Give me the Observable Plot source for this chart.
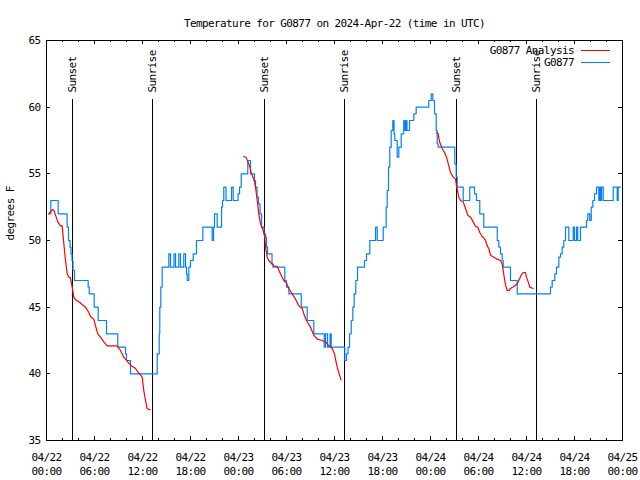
<!DOCTYPE html>
<html><head><meta charset="utf-8">
<script src="https://cdn.jsdelivr.net/npm/d3@7"></script>
<script src="https://cdn.jsdelivr.net/npm/@observablehq/plot@0.6"></script>
<style>
body{margin:0;background:#fff;}
</style>
</head><body><div id="chart"></div>
<script>
const titleText = "Temperature for G0877 on 2024-Apr-22 (time in UTC)";
const yLabel = "degrees F";
const seriesNames = ["G0877 Analysis", "G0877"];
const seriesColors = ["#ff0000", "#0080ff"];
const startUTC = Date.UTC(2024, 3, 22, 0, 0);
const spanHours = 72;
const majorTickHours = [0, 6, 12, 18, 24, 30, 36, 42, 48, 54, 60, 66, 72];
const minorTickHours = [2, 4, 8, 10, 14, 16, 20, 22, 26, 28, 32, 34, 38, 40, 44, 46, 50, 52, 56, 58, 62, 64, 68, 70];
const yTicks = [35, 40, 45, 50, 55, 60, 65];
const sunHours = [3.28, 13.29, 27.26, 37.26, 51.25, 61.23];
const sunLabels = ["Sunset", "Sunrise", "Sunset", "Sunrise", "Sunset", "Sunrise"];

// Observations (G0877): hours since 04/22 00:00 UTC, value held until next point
const obsHours = [0.29,0.54,1.46,2.58,2.75,2.94,3.06,3.19,3.31,3.5,5.21,5.34,5.96,6.46,7.5,8.91,9.88,10.0,10.5,13.84,14.09,14.16,14.29,14.46,15.29,15.5,15.94,16.13,16.54,16.75,17.16,17.38,17.5,17.59,17.79,18.0,18.34,18.75,19.54,20.71,20.88,21.0,21.34,21.88,22.0,22.16,22.44,23.13,23.34,23.94,24.13,24.34,25.16,25.5,26.0,26.13,26.31,26.5,26.69,26.88,27.19,27.38,27.5,27.63,28.19,28.31,29.79,30.0,30.29,31.84,32.59,33.41,34.72,34.88,35.13,35.44,35.59,37.29,37.5,37.69,37.88,38.09,38.29,38.46,38.66,38.88,39.75,40.0,40.41,41.13,41.34,42.09,42.46,42.59,42.75,42.91,43.09,43.29,43.44,43.54,43.84,44.04,44.34,44.66,44.81,44.94,45.06,45.38,45.91,46.21,47.79,48.09,48.29,48.5,48.71,48.84,48.96,51.04,51.21,51.34,52.09,52.91,53.5,53.75,54.16,54.66,56.34,56.54,56.75,56.96,57.09,58.0,58.84,63.0,63.21,63.54,63.75,64.04,64.25,64.46,64.66,64.88,65.29,65.84,66.0,66.25,66.41,66.75,67.5,67.66,67.91,68.09,68.29,68.5,68.75,69.04,69.16,69.29,69.38,69.59,70.84,71.34,71.46,71.75];
const obsTemps = [52,53,52,51,50,49.5,49,48.5,47.75,47,46.5,46,45,44,43,42,41.5,41,40,41.5,43,45,46.5,48,49,48,49,48,49,48,49,48,47.5,47,48,48.5,49,50,51,50,51,52,51,52.5,53,54,53,54,53,53.5,54,55,56,55,54.5,54,53.25,52.75,52,51,50.5,50.25,49.5,49,48.25,48,47,46.5,46,45,44,43,42,43,42,43,42,41,41.5,42,43,44,45,46,47,48,48.5,49,50,51,50,51,52.5,53.75,55.5,57,58.25,59,58,57.5,56.25,57,58,59,58.25,59,58.25,59,59.5,60,60.5,61,60.5,59.5,58.25,57.25,57,55.75,54.75,54,53,54,53.5,53,52,51,50,49.5,49,48.5,48,47,46,46.5,47,47.5,48,48.75,49,49.5,50,51,50,51,50,51,50,51,51.5,52,51.5,52.5,53,53.5,54,53,54,53,54,53,54,53,54,54];

// Analysis (G0877 Analysis): null marks a gap between runs
const anaHours = [0.29,0.71,0.91,1.13,1.41,1.75,1.96,2.09,2.25,2.38,2.59,2.79,3.0,3.21,3.41,3.63,4.04,4.46,4.88,5.29,5.5,5.91,6.13,6.41,6.75,7.16,7.59,8.84,9.25,9.66,10.16,10.59,11.13,11.54,11.96,12.16,12.38,12.56,12.94,
  13.0,
  24.66,25.0,25.16,25.38,25.63,25.91,26.13,26.34,26.54,26.75,27.09,27.29,27.38,27.59,27.79,28.41,28.84,29.25,29.66,30.0,30.29,30.71,31.13,31.54,31.96,32.16,32.5,33.0,33.41,33.84,34.46,34.88,35.29,35.71,36.0,36.16,36.34,36.46,36.63,36.81,
  37.0,
  48.75,48.96,49.13,49.46,49.75,50.0,50.29,50.5,50.84,51.13,51.25,51.54,51.75,52.09,52.38,52.66,53.0,53.34,53.63,53.91,54.16,54.46,54.66,54.88,55.09,55.29,55.5,55.91,56.34,56.75,56.96,57.09,57.25,57.41,57.59,57.79,58.0,58.41,58.84,59.04,59.34,59.59,59.88,60.0,60.21,60.41,60.84];
const anaTemps = [52,52.3,52.3,51.9,51.4,51.1,51.1,50.25,49.25,48.5,47.5,47.25,47.2,46.5,45.75,45.55,45.4,45.2,45,44.6,44.3,44.1,43.6,43,42.75,42.4,42.1,42.1,41.75,41.25,40.9,40.6,40.4,40.05,39.75,38.75,38,37.4,37.3,
  null,
  56.3,56.2,55.9,55.6,55,54.6,54,53,52,51.25,50.75,50.25,49.5,48.75,48.5,48.1,48.05,47.5,47,46.8,46.4,46,45.6,45.1,44.9,44.5,44,43.5,42.9,42.6,42.5,42.4,42.1,41.9,41.5,41,40.5,40.25,39.9,39.55,
  null,
  58.1,58,57.4,56.9,56.6,56.25,55.6,55.1,54.75,54.6,54.1,53.25,53,52.9,52.4,51.9,51.75,51.4,51.05,51,50.6,50.3,50.2,50,49.6,49.4,48.9,48.75,48.6,48.5,48.25,47.75,47.1,46.6,46.25,46.25,46.4,46.55,46.75,47,47.4,47.6,47.6,47.25,46.9,46.5,46.4];

const t = h => new Date(startUTC + h * 3600000);
const fmt = d3.utcFormat("%m/%d\n%H:%M");
const pxY = 30 / 400;   // data units per pixel (y)
const pxX = 72 / 576;   // hours per pixel (x)
const crisp = {shapeRendering: "crispEdges"};

const chart = Plot.plot({
  width: 640, height: 480,
  marginLeft: 46, marginRight: 18, marginTop: 40, marginBottom: 40,
  style: {fontFamily: "'DejaVu Sans Mono', monospace", fontSize: "11px", letterSpacing: "-0.6px", background: "white", color: "black"},
  x: {type: "utc", domain: [t(0), t(spanHours)], axis: null},
  y: {domain: [35, 65], axis: null},
  marks: [
    // ticks (inward, mirrored)
    Plot.ruleX(majorTickHours, {x: t, y1: 35, y2: 35 + 4 * pxY, stroke: "black", ...crisp}),
    Plot.ruleX(majorTickHours, {x: t, y1: 65, y2: 65 - 4 * pxY, stroke: "black", ...crisp}),
    Plot.ruleX(minorTickHours, {x: t, y1: 35, y2: 35 + 2 * pxY, stroke: "black", ...crisp}),
    Plot.ruleX(minorTickHours, {x: t, y1: 65, y2: 65 - 2 * pxY, stroke: "black", ...crisp}),
    Plot.ruleY(yTicks, {y: d => d, x1: t(0), x2: t(4 * pxX), stroke: "black", ...crisp}),
    Plot.ruleY(yTicks, {y: d => d, x1: t(spanHours), x2: t(spanHours - 4 * pxX), stroke: "black", ...crisp}),
    // tick labels
    Plot.text(majorTickHours, {x: t, y: 35, text: h => fmt(t(h)), lineAnchor: "top", dy: 10, lineHeight: 1.3, fill: "black"}),
    Plot.text(yTicks, {y: d => d, frameAnchor: "left", textAnchor: "end", dx: -6, text: d => String(d), fill: "black"}),
    // sunrise / sunset
    Plot.ruleX(sunHours, {x: t, y1: 35, y2: 60.6, stroke: "black", ...crisp}),
    Plot.text(sunHours, {x: t, y: 61.1, text: (d, i) => sunLabels[i], rotate: -90, textAnchor: "start", fill: "black"}),
    // data
    Plot.line(obsHours.map((h, i) => i), {x: i => t(obsHours[i]), y: i => obsTemps[i], curve: "step-after", stroke: seriesColors[1], strokeWidth: 1.2}),
    Plot.line(anaHours.map((h, i) => i), {x: i => t(anaHours[i]), y: i => anaTemps[i], stroke: seriesColors[0], strokeWidth: 1.2}),
    Plot.frame({stroke: "black", ...crisp}),
    // title and axis label
    Plot.text([titleText], {frameAnchor: "top", dy: -21, fill: "black"}),
    Plot.text([yLabel], {frameAnchor: "left", dx: -36, rotate: -90, fill: "black"})
  ]
});

// legend
const svg = d3.select(chart);
const lg = svg.append("g").attr("font-family", "'DejaVu Sans Mono', monospace").attr("font-size", 11).attr("letter-spacing", "-0.6px");
seriesNames.forEach((name, i) => {
  const yy = 50.5 + i * 12;
  lg.append("text").attr("x", 574).attr("y", yy).attr("dy", "0.32em").attr("text-anchor", "end").attr("fill", "black").text(name);
  lg.append("line").attr("x1", 581).attr("x2", 610).attr("y1", yy).attr("y2", yy).attr("stroke", seriesColors[i]).attr("shape-rendering", "crispEdges");
});
document.getElementById("chart").appendChild(chart);
</script>
</body></html>
